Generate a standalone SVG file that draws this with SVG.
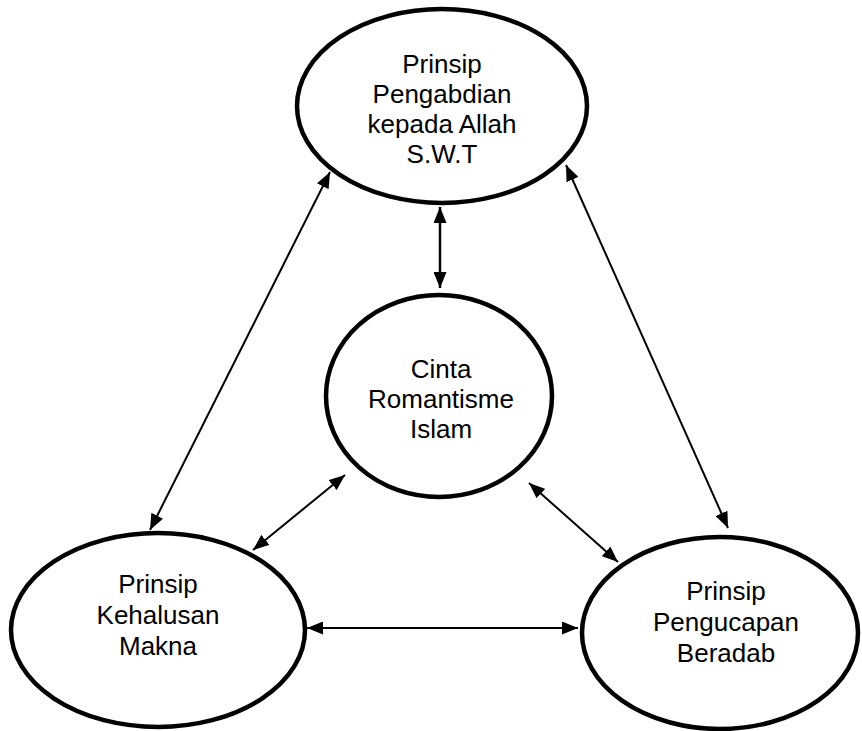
<svg xmlns="http://www.w3.org/2000/svg" width="862" height="731" viewBox="0 0 862 731">
<style>
.node ellipse{fill:#fff;stroke:#000;stroke-width:4.5}
.node text{font-family:"Liberation Sans",Arial,sans-serif;font-size:26px;fill:#000;text-anchor:middle}
.conn line{stroke:#000;stroke-width:2;fill:none}
</style>
<defs>
<marker id="ah" markerUnits="userSpaceOnUse" markerWidth="17" markerHeight="13" refX="16" refY="6.5" orient="auto-start-reverse" viewBox="0 0 17 13">
<path d="M0,0 L16,6.5 L0,13 z" fill="#000"/>
</marker>
</defs>
<rect width="862" height="731" fill="#fff"/>
<g id="n-top" class="node">
<ellipse cx="442" cy="106" rx="145" ry="97"/>
<text x="442" y="73">Prinsip</text>
<text x="442" y="103">Pengabdian</text>
<text x="442" y="133">kepada Allah</text>
<text x="442" y="163">S.W.T</text>
</g>
<g id="n-center" class="node">
<ellipse cx="439" cy="396" rx="113" ry="101"/>
<text x="441" y="378">Cinta</text>
<text x="441" y="408">Romantisme</text>
<text x="441" y="438">Islam</text>
</g>
<g id="n-left" class="node">
<ellipse cx="158" cy="630" rx="147" ry="97"/>
<text x="158" y="593">Prinsip</text>
<text x="158" y="624">Kehalusan</text>
<text x="158" y="655">Makna</text>
</g>
<g id="n-right" class="node">
<ellipse cx="720" cy="633" rx="138" ry="96"/>
<text x="726" y="600">Prinsip</text>
<text x="726" y="631">Pengucapan</text>
<text x="726" y="662">Beradab</text>
</g>
<g id="connectors" class="conn">
<line x1="440" y1="207" x2="440" y2="288" marker-start="url(#ah)" marker-end="url(#ah)" style="stroke-width:2.5"/>
<line x1="330" y1="172" x2="150" y2="530" marker-start="url(#ah)" marker-end="url(#ah)"/>
<line x1="566" y1="165" x2="728" y2="528" marker-start="url(#ah)" marker-end="url(#ah)"/>
<line x1="345" y1="475" x2="253" y2="550" marker-start="url(#ah)" marker-end="url(#ah)"/>
<line x1="529" y1="483" x2="618" y2="562" marker-start="url(#ah)" marker-end="url(#ah)"/>
<line x1="307" y1="628" x2="578" y2="628" marker-start="url(#ah)" marker-end="url(#ah)"/>
</g>
</svg>
